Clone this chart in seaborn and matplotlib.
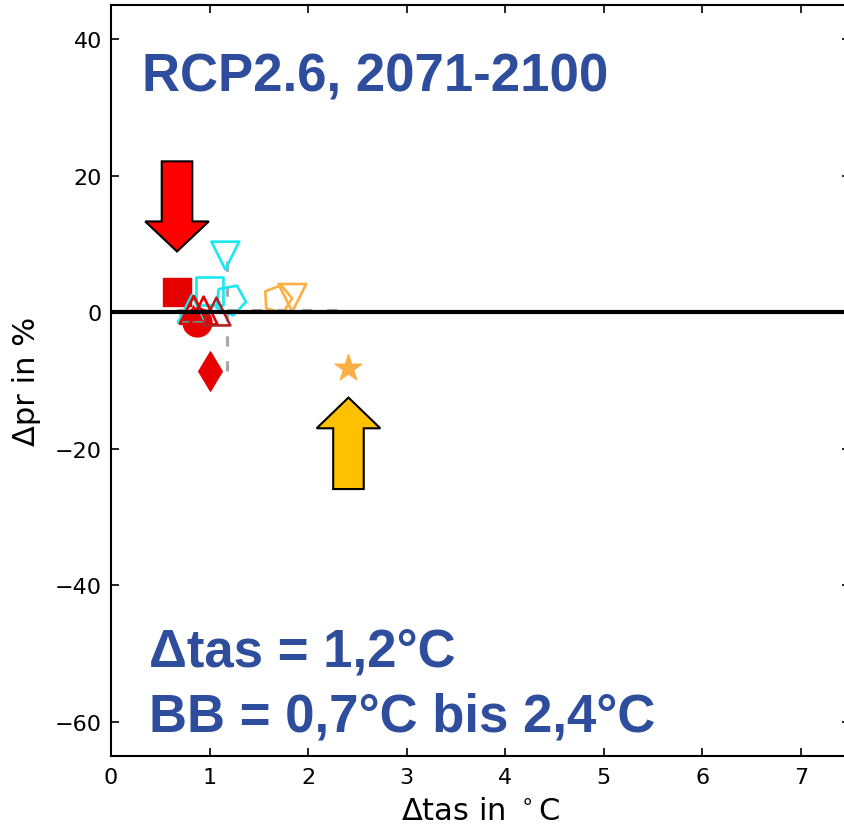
import matplotlib
matplotlib.use("Agg")
import matplotlib.pyplot as plt
from matplotlib.markers import MarkerStyle
from matplotlib.transforms import Affine2D
import seaborn as sns

# Change in near-surface air temperature (°C), one value per simulation
tas_change = [0.83, 0.87, 0.67, 1.00, 0.82, 1.16, 1.21, 1.00, 0.84, 0.94, 1.07, 1.69, 1.84, 2.41]
# Change in precipitation (%), one value per simulation
pr_change = [-1.0, -1.5, 3.0, 3.1, 0.5, 8.3, 1.8, -8.6, 0.35, 0.25, 0.1, 1.9, 2.1, -8.1]

# Ensemble median of both changes
tas_median = 1.18
pr_median = 0.35

# Axis ticks
x_ticks = [0, 1, 2, 3, 4, 5, 6, 7]
y_ticks = [-60, -40, -20, 0, 20, 40]

# Overlay annotations
title_text = "RCP2.6, 2071-2100"
median_text = "\u0394tas = 1,2\u00b0C"
range_text = "BB = 0,7\u00b0C bis 2,4\u00b0C"

# Marker style of each simulation
RED, DARKRED, CYAN, ORANGE = "#E60000", "#B22222", "#18E8F0", "#FDAE45"


def pentagon(angle):
    return MarkerStyle("p", transform=Affine2D().rotate_deg(angle))


marker_shapes = ["*", "o", "s", "s", "^", "v", pentagon(-25), "d", "^", "^", "^",
                 pentagon(-15), "v", "*"]
marker_colors = [RED, RED, RED, CYAN, CYAN, CYAN, CYAN, RED, RED, RED, DARKRED,
                 ORANGE, ORANGE, ORANGE]
marker_filled = [True, True, True, False, False, False, False, True, False, False, False,
                 False, False, True]
marker_area = [400, 430, 400, 400, 400, 400, 520, 400, 400, 400, 400, 440, 400, 400]

sns.set_theme(style="ticks", rc={
    "axes.edgecolor": "black",
    "axes.linewidth": 1.5,
    "xtick.direction": "in",
    "ytick.direction": "in",
    "xtick.top": True,
    "ytick.right": True,
    "xtick.major.size": 5.5,
    "ytick.major.size": 5.5,
    "xtick.major.width": 1.2,
    "ytick.major.width": 1.2,
    "xtick.major.pad": 8,
    "ytick.major.pad": 6.5,
    "xtick.labelsize": 16,
    "ytick.labelsize": 16,
    "axes.labelsize": 22,
    "xtick.color": "black",
    "ytick.color": "black",
    "axes.labelcolor": "black",
    "mathtext.fontset": "dejavusans",
})
plt.rcParams["font.family"] = ["DejaVu Sans"]

W, H = 844, 829
fig = plt.figure(figsize=(W / 100, H / 100), dpi=100)
ax = fig.add_axes([111 / W, 72 / H, 739 / W, 751 / H])

# Ensemble range (dashed) through the median
ax.vlines(tas_median, min(pr_change), max(pr_change), colors="#A8A8A8",
          linestyles=(0, (3.2, 4.6)), linewidth=2.3, zorder=2)
ax.hlines(pr_median, min(tas_change), max(tas_change), colors="#A8A8A8",
          linestyles=(0, (3.2, 4.6)), linewidth=2.3, zorder=2)

for x, y, m, c, filled, s in zip(tas_change, pr_change, marker_shapes, marker_colors,
                                 marker_filled, marker_area):
    sns.scatterplot(x=[x], y=[y], marker=m, s=s, color=c, edgecolor=c,
                    facecolor=c if filled else "none",
                    linewidth=1.0 if filled else 1.9,
                    zorder=3, legend=False, ax=ax)

ax.axhline(0, color="black", linewidth=3, zorder=5)

# Arrows marking the coolest and warmest ends of the range
ax.arrow(min(tas_change), 22.1, 0, 8.9 - 22.1, width=0.31, head_width=0.646,
         head_length=4.4, length_includes_head=True, facecolor="#FF0000",
         edgecolor="black", linewidth=1.5, zorder=6)
ax.arrow(max(tas_change), -25.9, 0, -12.5 + 25.9, width=0.31, head_width=0.646,
         head_length=4.5, length_includes_head=True, facecolor="#FFC000",
         edgecolor="black", linewidth=1.5, zorder=6)

ax.set_xlim(0, 7.5)
ax.set_ylim(-65, 45)
ax.set_xticks(x_ticks)
ax.set_yticks(y_ticks)
ax.set_xlabel("\u0394tas in $^\\circ$C")
ax.set_ylabel("\u0394pr in %")
ax.xaxis.set_label_coords(0.5, -0.053)
ax.yaxis.set_label_coords(-0.095, 0.5)

BLUE = "#2E4D9D"
txt = dict(ha="left", va="baseline", fontsize=38, fontweight="bold",
           family="Liberation Sans", color=BLUE)
fig.text(142 / W, 1 - 91.7 / H, title_text, **txt)
fig.text(149 / W, 1 - 667 / H, median_text, **txt)
fig.text(149 / W, 1 - 732 / H, range_text, **txt)

fig.savefig("out.png", dpi=100)
